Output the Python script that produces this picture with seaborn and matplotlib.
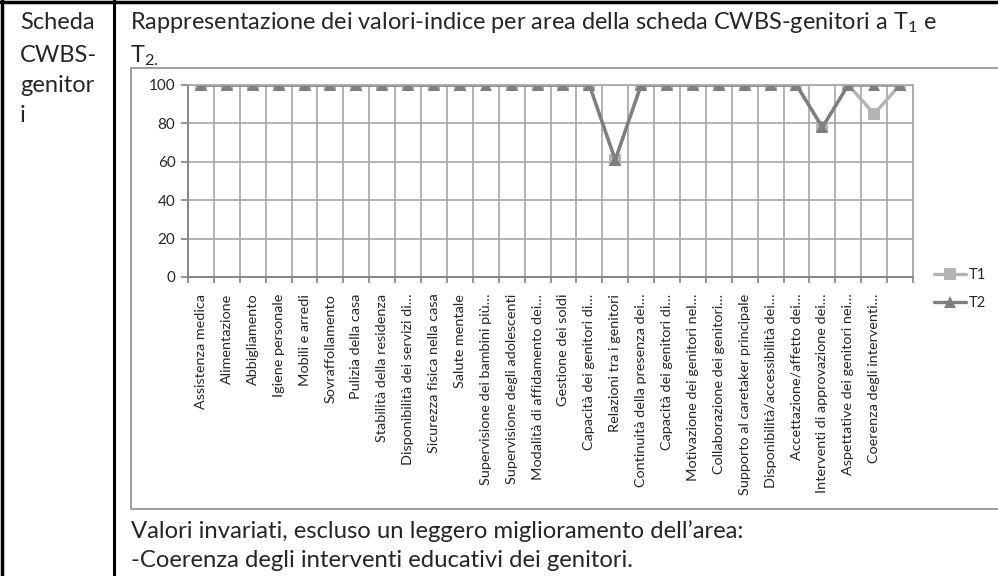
#!/usr/bin/env python3
"""
Scheda CWBS-genitori: valori-indice per area a T1 e T2
"""

import numpy as np
import pandas as pd
import matplotlib
matplotlib.use("Agg")
import matplotlib.pyplot as plt
from matplotlib.lines import Line2D
import seaborn as sns

# Aree della scheda (l'ultima categoria non ha etichetta)
aree = [
    "Assistenza medica",
    "Alimentazione",
    "Abbigliamento",
    "Igiene personale",
    "Mobili e arredi",
    "Sovraffollamento",
    "Pulizia della casa",
    "Stabilità della residenza",
    "Disponibilità dei servizi di…",
    "Sicurezza fisica nella casa",
    "Salute mentale",
    "Supervisione dei bambini più…",
    "Supervisione degli adolescenti",
    "Modalità di affidamento dei…",
    "Gestione dei soldi",
    "Capacità dei genitori di…",
    "Relazioni tra i genitori",
    "Continuità della presenza dei…",
    "Capacità dei genitori di…",
    "Motivazione dei genitori nel…",
    "Collaborazione dei genitori…",
    "Supporto al caretaker principale",
    "Disponibilità/accessibilità dei…",
    "Accettazione/affetto dei…",
    "Interventi di approvazione dei…",
    "Aspettative dei genitori nei…",
    "Coerenza degli interventi…",
    "",
]

t1 = [100, 100, 100, 100, 100, 100, 100, 100, 100, 100, 100, np.nan, 100, 100,
      100, 100, 61, 100, 100, 100, 100, 100, 100, 100, 78, 100, 85, 100]
t2 = [100, 100, 100, 100, 100, 100, 100, 100, 100, 100, 100, 100, 100, 100,
      100, 100, 61, 100, 100, 100, 100, 100, 100, 100, 78, 100, 100, 100]

serie = ["T1", "T2"]
colori = {"T1": "#b4b4b4", "T2": "#7f7f7f"}
marcatori = {"T1": "s", "T2": "^"}
dim_marcatori = {"T1": 8, "T2": 9}
y_ticks = [0, 20, 40, 60, 80, 100]

# dimensioni in pixel dell'immagine
W, H = 998, 576


def fx(x):
    return x / W


def fy(y):
    return 1 - y / H


sns.set_theme(style="white")
plt.rcParams["font.family"] = ["Lato", "DejaVu Sans"]
plt.rcParams["mathtext.fontset"] = "custom"
plt.rcParams["mathtext.rm"] = "Lato"
plt.rcParams["mathtext.it"] = "Lato"
plt.rcParams["mathtext.bf"] = "Lato:bold"

df = pd.DataFrame({
    "pos": list(range(len(aree))) * 2,
    "valore": t1 + t2,
    "serie": ["T1"] * len(aree) + ["T2"] * len(aree),
})

fig = plt.figure(figsize=(W / 100, H / 100), dpi=100)
ax = fig.add_axes([fx(188), fy(277), fx(913) - fx(188), fy(85) - fy(277)])

sns.lineplot(data=df, x="pos", y="valore", hue="serie", style="serie",
             hue_order=serie, style_order=serie, palette=colori,
             markers=marcatori, dashes=False, estimator=None, errorbar=None,
             linewidth=2.4, markeredgewidth=0, legend=False, ax=ax)

for line in ax.lines:
    line.set_markersize(dim_marcatori["T1"] if line.get_marker() == "s" else dim_marcatori["T2"])

# assi in stile Excel: griglia ai bordi delle categorie
ax.set_xlim(-0.5, len(aree) - 0.5)
ax.set_ylim(0, 100)
ax.set_yticks(y_ticks)
ax.set_xticks(np.arange(-0.5, len(aree)))
ax.set_xticklabels([])
ax.set_xticks(range(len(aree)), minor=True)
ax.set_xticklabels(aree, minor=True, rotation=90, va="top", fontsize=10.4)
ax.set_xlabel("")
ax.set_ylabel("")
ax.tick_params(axis="x", which="major", bottom=True, length=4, color="#868686")
ax.tick_params(axis="x", which="minor", bottom=True, length=0, pad=12)
ax.tick_params(axis="y", left=True, length=5, color="#868686", labelsize=11, pad=4)
ax.grid(True, which="major", color="#a6a6a6", linewidth=1.2)
ax.set_axisbelow(True)
for name, spine in ax.spines.items():
    spine.set_visible(True)
    spine.set_color("#868686" if name in ("left", "bottom") else "#a6a6a6")
    spine.set_linewidth(1.4 if name in ("left", "bottom") else 1.2)

handles = [Line2D([], [], color=colori[s], marker=marcatori[s],
                  markersize=dim_marcatori[s], linewidth=2.4,
                  markeredgewidth=0) for s in serie]
fig.legend(handles, serie, loc="center left", bbox_to_anchor=(fx(934), fy(289)),
           frameon=False, fontsize=10.5, handlelength=2.2, handletextpad=0.2,
           labelspacing=0.95, borderpad=0, borderaxespad=0)

# cornice del grafico
fig.add_artist(plt.Rectangle((fx(131), fy(509)), fx(1010) - fx(131), fy(68) - fy(509),
                             fill=False, edgecolor="#8c8c8c", linewidth=1.2,
                             transform=fig.transFigure))

# bordi della tabella
fig.add_artist(Line2D([fx(1.5), fx(1.5)], [0, 1], color="black", linewidth=2.5))
fig.add_artist(Line2D([fx(114), fx(114)], [0, 1], color="black", linewidth=2.2))
fig.add_artist(Line2D([0, 1], [fy(1.5), fy(1.5)], color="black", linewidth=2.5))

# testi della tabella
for testo, y in zip(["Scheda", "CWBS-", "genitor", "i"], [29, 62, 92, 122]):
    fig.text(fx(20), fy(y), testo, fontsize=17, va="baseline")

fig.text(fx(130), fy(29),
         "Rappresentazione dei valori-indice per area della scheda CWBS-genitori a T$_1$ e",
         fontsize=16.9, va="baseline")
fig.text(fx(130), fy(62), "T$_{2.}$", fontsize=16.9, va="baseline")
fig.text(fx(131), fy(538), "Valori invariati, escluso un leggero miglioramento dell’area:",
         fontsize=17.2, va="baseline")
fig.text(fx(131), fy(567), "-Coerenza degli interventi educativi dei genitori.",
         fontsize=17.2, va="baseline")

fig.savefig("out.png", dpi=100)
plt.close(fig)
